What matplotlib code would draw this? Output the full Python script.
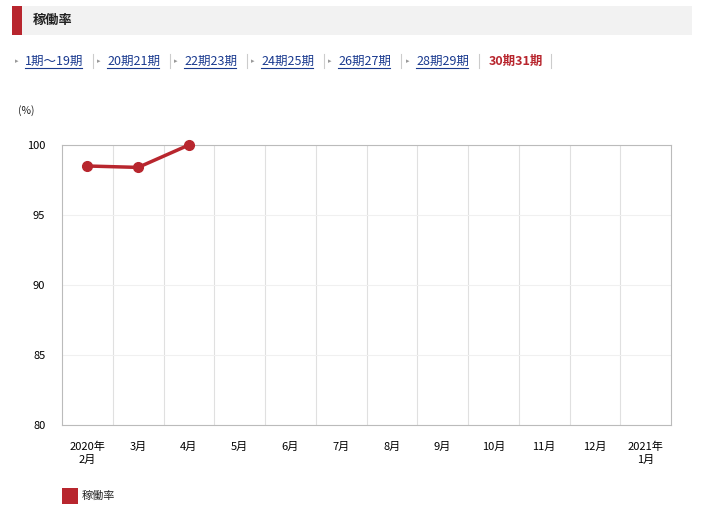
import matplotlib
matplotlib.use("Agg")
import matplotlib.pyplot as plt
from matplotlib.patches import Rectangle

plt.rcParams['font.family'] = ['Noto Sans CJK JP', 'DejaVu Sans']

# データ
months = ["2020年\n2月", "3月", "4月", "5月", "6月", "7月", "8月", "9月",
          "10月", "11月", "12月", "2021年\n1月"]
rate = [98.5, 98.4, 100.0]
tabs = ["1期～19期", "20期21期", "22期23期", "24期25期", "26期27期", "28期29期", "30期31期"]
tab_x = [25, 107, 184, 261, 338, 416, 489]
tab_w = [57, 52, 52, 52, 52, 52, 52]
sep_x = [93, 170, 247, 324, 401, 479, 551]

RED = "#b8262e"
W, H = 717, 519

fig = plt.figure(figsize=(W / 100, H / 100), dpi=100)

def px(x, y):
    return x / W, 1 - y / H

# ヘッダー
fig.patches.append(Rectangle(px(12, 35), 680 / W, 29 / H, transform=fig.transFigure,
                             facecolor="#f2f2f2", edgecolor="none"))
fig.patches.append(Rectangle(px(12, 35), 10 / W, 29 / H, transform=fig.transFigure,
                             facecolor=RED, edgecolor="none"))
fig.text(*px(33, 20), "稼働率", fontsize=9.5, fontweight="bold", va="center", color="#222")

# タブ
for i, (t, x, w, s) in enumerate(zip(tabs, tab_x, tab_w, sep_x)):
    last = i == len(tabs) - 1
    if not last:
        fig.text(*px(x - 10, 61), "▸", fontsize=5, color="#999", va="center")
        fig.text(*px(x, 61), t, fontsize=9, color="#1a3a8f", va="center")
        fig.lines.append(plt.Line2D([x / W, (x + w) / W], [1 - 68 / H] * 2,
                                    transform=fig.transFigure, color="#1a3a8f", lw=0.8))
    else:
        fig.text(*px(x, 61), t, fontsize=9, color=RED, va="center", fontweight="bold")
    fig.lines.append(plt.Line2D([s / W] * 2, [1 - 54 / H, 1 - 68 / H],
                                transform=fig.transFigure, color="#ccc", lw=0.8))

fig.text(*px(18, 111), "(%)", fontsize=7.5, va="center", color="#222")

# グラフ
ax = fig.add_axes([62 / W, 1 - 425 / H, 609 / W, 280 / H])
ax.plot(range(len(rate)), rate, color=RED, lw=2.5, marker="o", ms=7, clip_on=False, zorder=3)
ax.set_xlim(-0.5, len(months) - 0.5)
ax.set_ylim(80, 100)
ax.set_yticks([80, 85, 90, 95, 100])
ax.set_xticks(range(len(months)))
ax.set_xticklabels(months, fontsize=8, linespacing=1.4)
ax.tick_params(axis="y", labelsize=8, length=0, pad=12)
ax.tick_params(axis="x", length=0, pad=12)
ax.set_xticks([i + 0.5 for i in range(len(months) - 1)], minor=True)
ax.tick_params(axis="x", which="minor", length=0)
ax.grid(True, which="minor", axis="x", color="#e0e0e0", lw=0.8)
ax.grid(True, which="major", axis="y", color="#f0f0f0", lw=0.8)
for s in ax.spines.values():
    s.set_color("#bbbbbb")

# 凡例
fig.patches.append(Rectangle(px(62, 504), 16 / W, 16 / H, transform=fig.transFigure,
                             facecolor=RED, edgecolor="none"))
fig.text(*px(82, 496), "稼働率", fontsize=8, va="center", color="#222")

fig.savefig("out.png", dpi=100)
